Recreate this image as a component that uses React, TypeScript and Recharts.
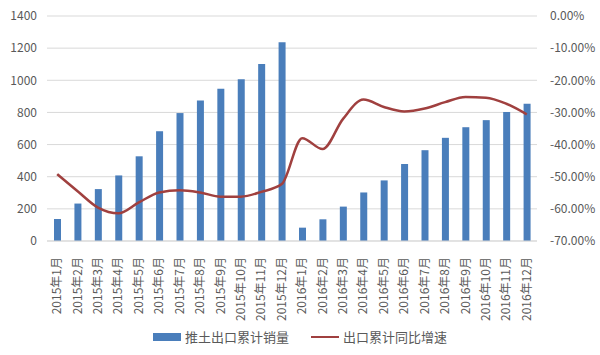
import React from "react";
import { ComposedChart, Bar, Line, XAxis, YAxis, CartesianGrid, Legend } from "recharts";

const MONTHS = [
    "2015年1月", "2015年2月", "2015年3月", "2015年4月", "2015年5月", "2015年6月",
    "2015年7月", "2015年8月", "2015年9月", "2015年10月", "2015年11月", "2015年12月",
    "2016年1月", "2016年2月", "2016年3月", "2016年4月", "2016年5月", "2016年6月",
    "2016年7月", "2016年8月", "2016年9月", "2016年10月", "2016年11月", "2016年12月",
];

// 推土出口累计销量
const SALES = [137, 233, 323, 408, 527, 683, 796, 875, 948, 1006, 1102, 1237,
    83, 135, 214, 302, 377, 479, 565, 642, 708, 752, 802, 854];

// 出口累计同比增速 (%)
const GROWTH = [-49.2, -54.5, -59.6, -61.4, -58.0, -54.9, -54.2, -54.9, -56.2, -56.2, -54.7, -52.3,
    -38.0, -41.4, -32.0, -26.0, -28.3, -29.7, -28.8, -26.8, -25.2, -25.4, -27.3, -30.6];

const LEFT_TICKS = [0, 200, 400, 600, 800, 1000, 1200, 1400];
const RIGHT_TICKS = [0, -10, -20, -30, -40, -50, -60, -70];

const SERIES_NAMES = ["推土出口累计销量", "出口累计同比增速"];

const BAR_COLOR = "#4A7EBB";
const LINE_COLOR = "#A0403F";
const TEXT_COLOR = "#595959";
const FONT = "'Noto Sans CJK SC', 'Noto Sans', sans-serif";

const data = MONTHS.map((m, i) => ({ month: m, sales: SALES[i], growth: GROWTH[i] }));

const MonthTick = (props: any) => {
    const { x, y, payload } = props;
    return (
        <text
            x={x}
            y={y}
            transform={`rotate(-90, ${x}, ${y})`}
            dx={-8}
            dy={4}
            textAnchor="end"
            fontSize={12}
            fill={TEXT_COLOR}
            fontFamily={FONT}
        >
            {payload.value}
        </text>
    );
};

const renderLegend = () => (
    <div style={{ display: "flex", justifyContent: "center", alignItems: "center", fontFamily: FONT, fontSize: 13, color: TEXT_COLOR, paddingTop: 4 }}>
        <div style={{ display: "flex", alignItems: "center", marginRight: 22 }}>
            <div style={{ width: 28, height: 8, backgroundColor: BAR_COLOR, marginRight: 4 }}></div>
            <span>{SERIES_NAMES[0]}</span>
        </div>
        <div style={{ display: "flex", alignItems: "center" }}>
            <div style={{ width: 28, height: 2, backgroundColor: LINE_COLOR, marginRight: 4 }}></div>
            <span>{SERIES_NAMES[1]}</span>
        </div>
    </div>
);

const App: React.FC = () => {
    return (
        <div style={{ width: 600, height: 355, background: "#fff" }}>
            <style>{`body { margin: 0; }`}</style>
            <ComposedChart
                width={600}
                height={355}
                data={data}
                margin={{ top: 16, right: 0, left: 0, bottom: 6 }}
            >
                <CartesianGrid yAxisId="left" vertical={false} stroke="#d9d9d9" />
                <XAxis
                    dataKey="month"
                    interval={0}
                    height={82}
                    tick={<MonthTick />}
                    tickLine={false}
                    axisLine={{ stroke: "#d9d9d9" }}
                />
                <YAxis
                    yAxisId="left"
                    domain={[0, 1400]}
                    ticks={LEFT_TICKS}
                    width={47}
                    axisLine={false}
                    tickLine={false}
                    tickMargin={4}
                    tick={{ fontSize: 12, fill: TEXT_COLOR, fontFamily: FONT }}
                />
                <YAxis
                    yAxisId="right"
                    orientation="right"
                    domain={[-70, 0]}
                    ticks={RIGHT_TICKS}
                    width={63}
                    axisLine={false}
                    tickLine={false}
                    tickMargin={7}
                    tickFormatter={(v: number) => `${v.toFixed(2)}%`}
                    tick={{ fontSize: 12, fill: TEXT_COLOR, fontFamily: FONT }}
                />
                <Bar yAxisId="left" dataKey="sales" name={SERIES_NAMES[0]} fill={BAR_COLOR} barSize={7} isAnimationActive={false} />
                <Line
                    yAxisId="right"
                    type="monotone"
                    dataKey="growth"
                    name={SERIES_NAMES[1]}
                    stroke={LINE_COLOR}
                    strokeWidth={2.5}
                    dot={false}
                    isAnimationActive={false}
                />
                <Legend verticalAlign="bottom" height={26} content={renderLegend} />
            </ComposedChart>
        </div>
    );
};

export default App;
